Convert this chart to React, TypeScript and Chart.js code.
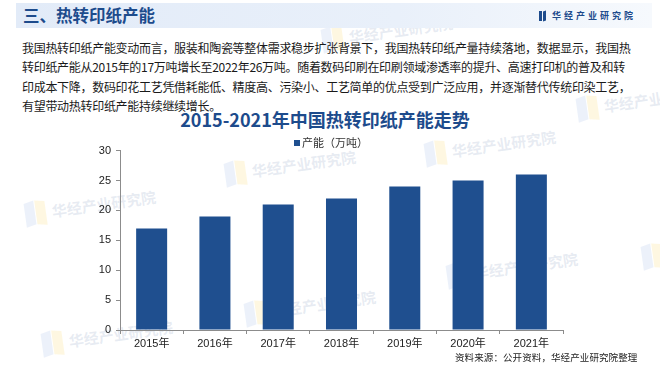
import React, { useEffect, useRef } from "react";
import { Chart, registerables } from "chart.js";

Chart.register(...registerables);

const categories = ["2015年", "2016年", "2017年", "2018年", "2019年", "2020年", "2021年"];
const capacity = [17, 19, 21, 22, 24, 25, 26];
const seriesLabel = "产能（万吨）";
const yMin = 0;
const yMax = 30;
const yStep = 5;

const headerTitle = "三、热转印纸产能";
const brandName = "华经产业研究院";
const chartTitle = "2015-2021年中国热转印纸产能走势";
const bodyLines = [
  "我国热转印纸产能变动而言，服装和陶瓷等整体需求稳步扩张背景下，我国热转印纸产量持续落地，数据显示，我国热",
  "转印纸产能从2015年的17万吨增长至2022年26万吨。随着数码印刷在印刷领域渗透率的提升、高速打印机的普及和转",
  "印成本下降，数码印花工艺凭借耗能低、精度高、污染小、工艺简单的优点受到广泛应用，并逐渐替代传统印染工艺，",
  "有望带动热转印纸产能持续继续增长。",
];
const sourceText = "资料来源：公开资料，华经产业研究院整理";

const BAR_COLOR = "#1f4f8f";
const NAVY = "#1d4b8c";
const CJK = "'Noto Sans CJK SC', 'Noto Sans', sans-serif";
const AXIS_FONT = "'Liberation Sans', Arial, 'Noto Sans CJK SC', sans-serif";

const legendPlugin = {
  id: "topLegend",
  afterDraw(chart: any) {
    const ctx = chart.ctx;
    const ds = chart.data.datasets[0];
    ctx.save();
    const box = 6;
    const x0 = 294;
    const y = 13;
    ctx.fillStyle = ds.backgroundColor;
    ctx.fillRect(x0, y - box / 2, box, box);
    ctx.font = `11px ${CJK}`;
    ctx.fillStyle = "#333";
    ctx.textBaseline = "middle";
    ctx.textAlign = "left";
    ctx.fillText(ds.label, x0 + box + 2, y);
    ctx.restore();
  },
};

const watermarks = [
  { x: 223, y: 160 },
  { x: 23, y: 200 },
  { x: 40, y: 330 },
  { x: 423, y: 140 },
  { x: 445, y: 262 },
  { x: 243, y: 300 },
  { x: 640, y: 243 },
  { x: 575, y: 95 },
  { x: 320, y: 26 },
];

function ChartCanvas() {
  const ref = useRef<HTMLCanvasElement | null>(null);
  useEffect(() => {
    if (!ref.current) return;
    const chart = new Chart(ref.current, {
      type: "bar",
      data: {
        labels: categories,
        datasets: [
          {
            label: seriesLabel,
            data: capacity,
            backgroundColor: BAR_COLOR,
            borderWidth: 0,
            barPercentage: 0.49,
            categoryPercentage: 1,
          },
        ],
      },
      options: {
        animation: false,
        responsive: false,
        maintainAspectRatio: false,
        devicePixelRatio: 1,
        layout: { padding: { top: 20.7, right: 97, bottom: 0, left: 0 } },
        plugins: {
          legend: { display: false },
          title: { display: false },
          tooltip: { enabled: false },
        },
        scales: {
          x: {
            grid: {
              display: true,
              drawOnChartArea: false,
              drawTicks: true,
              tickLength: 4,
              color: "#8c8c8c",
              offset: true,
            },
            border: { display: true, color: "#8c8c8c", width: 1 },
            ticks: {
              font: { size: 11, family: AXIS_FONT },
              color: "#222",
              padding: 3,
              maxRotation: 0,
            },
            afterFit: (scale: any) => {
              scale.height = 37;
            },
          },
          y: {
            min: yMin,
            max: yMax,
            grid: {
              display: true,
              drawOnChartArea: false,
              drawTicks: true,
              tickLength: 4,
              color: "#8c8c8c",
            },
            border: { display: true, color: "#8c8c8c", width: 1 },
            ticks: {
              stepSize: yStep,
              font: { size: 11, family: AXIS_FONT },
              color: "#222",
              padding: 5,
            },
            afterFit: (scale: any) => {
              scale.width = 120;
            },
          },
        },
      },
      plugins: [legendPlugin],
    });
    return () => chart.destroy();
  }, []);
  return (
    <canvas
      ref={ref}
      width={660}
      height={237}
      style={{ position: "absolute", left: 0, top: 130, width: 660, height: 237 }}
    />
  );
}

export default function App() {
  const lineCenters = [48, 67.3, 86.6, 106];
  return (
    <div
      style={{
        position: "absolute",
        left: 0,
        top: 0,
        width: 660,
        height: 367,
        overflow: "hidden",
        background: "#ffffff",
        fontFamily: CJK,
      }}
    >
      {watermarks.map((w, i) => (
        <div
          key={i}
          style={{
            position: "absolute",
            left: w.x,
            top: w.y,
            transform: "rotate(-8deg)",
            transformOrigin: "left top",
            whiteSpace: "nowrap",
            pointerEvents: "none",
          }}
        >
          <span
            style={{
              display: "inline-block",
              width: 10,
              height: 24,
              background: "rgba(150,180,230,0.18)",
              transform: "skewY(-12deg)",
              marginRight: 1,
              verticalAlign: "middle",
            }}
          />
          <span
            style={{
              display: "inline-block",
              width: 10,
              height: 24,
              background: "rgba(250,220,120,0.22)",
              transform: "skewY(12deg)",
              marginRight: 6,
              verticalAlign: "middle",
            }}
          />
          <span
            style={{
              fontSize: 15,
              fontWeight: 700,
              color: "rgba(170,185,210,0.28)",
              verticalAlign: "middle",
            }}
          >
            {brandName}
          </span>
        </div>
      ))}

      <div
        style={{
          position: "absolute",
          left: 16,
          top: 3,
          width: 636,
          height: 25,
          background: "linear-gradient(90deg, #e2ebf8 0%, #e9f0fa 60%, #f6f9fd 100%)",
        }}
      />
      <div
        style={{
          position: "absolute",
          left: 23,
          top: 3,
          height: 25,
          lineHeight: "25px",
          fontSize: 16.5,
          fontWeight: 700,
          color: NAVY,
          whiteSpace: "nowrap",
        }}
      >
        {headerTitle}
      </div>
      <div style={{ position: "absolute", left: 539, top: 11, width: 3, height: 10, background: NAVY }} />
      <div
        style={{
          position: "absolute",
          left: 543,
          top: 11,
          width: 3,
          height: 10,
          background: NAVY,
          transform: "skewY(-20deg)",
        }}
      />
      <div
        style={{
          position: "absolute",
          left: 552,
          top: 9,
          height: 14,
          lineHeight: "14px",
          fontSize: 9,
          fontWeight: 700,
          letterSpacing: 3,
          color: NAVY,
          whiteSpace: "nowrap",
        }}
      >
        {brandName}
      </div>

      {bodyLines.map((t, i) => (
        <div
          key={i}
          style={{
            position: "absolute",
            left: 22,
            top: lineCenters[i] - 9,
            height: 18,
            lineHeight: "18px",
            fontSize: 12,
            letterSpacing: -0.3,
            color: "#1a1a1a",
            whiteSpace: "nowrap",
          }}
        >
          {t}
        </div>
      ))}

      <div
        style={{
          position: "absolute",
          left: 0,
          width: 650,
          top: 107,
          height: 24,
          lineHeight: "24px",
          textAlign: "center",
          fontSize: 18,
          fontWeight: 700,
          color: NAVY,
          whiteSpace: "nowrap",
        }}
      >
        {chartTitle}
      </div>

      <ChartCanvas />

      <div
        style={{
          position: "absolute",
          left: 455,
          top: 350,
          height: 14,
          lineHeight: "14px",
          fontSize: 9.5,
          letterSpacing: 0.1,
          color: "#222",
          whiteSpace: "nowrap",
        }}
      >
        {sourceText}
      </div>
    </div>
  );
}
